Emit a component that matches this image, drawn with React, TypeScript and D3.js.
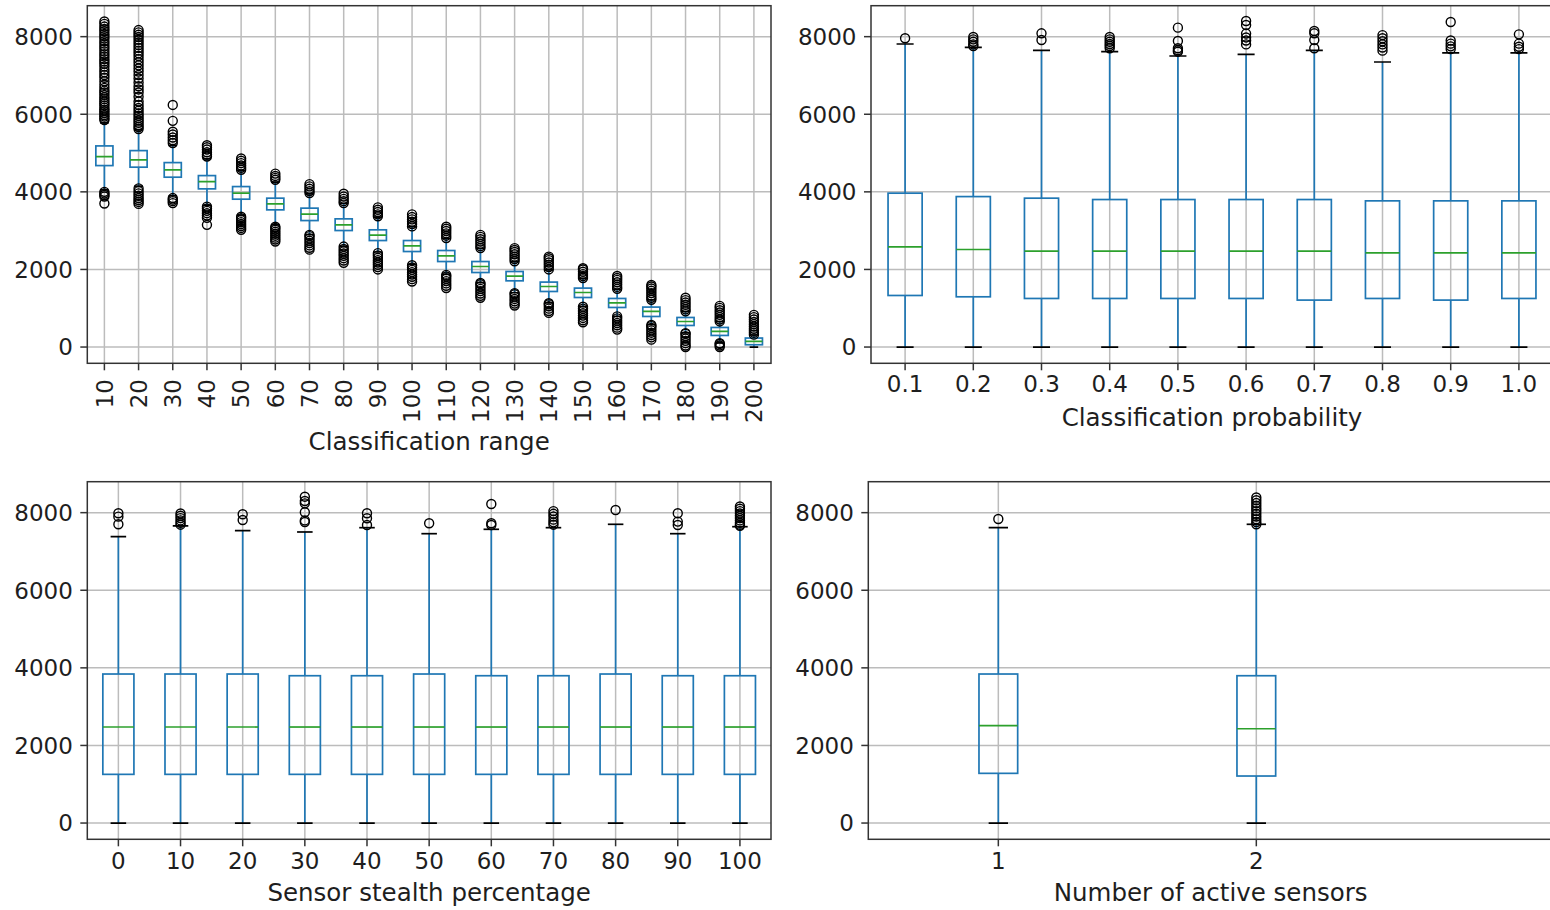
import React from 'react'
import * as d3 from 'd3'

// ---- Classification range (top left) ----
const rangeCats = ['10', '20', '30', '40', '50', '60', '70', '80', '90', '100', '110', '120', '130', '140', '150', '160', '170', '180', '190', '200']
const rangeLo = [4050, 4150, 3900, 3650, 3400, 3150, 2900, 2600, 2450, 2130, 1880, 1660, 1400, 1140, 1050, 790, 580, 365, 110, 0]
const rangeQ1 = [4677, 4636, 4378, 4077, 3811, 3536, 3260, 3003, 2745, 2462, 2204, 1921, 1707, 1432, 1277, 1020, 788, 556, 299, 59]
const rangeMed = [4909, 4824, 4566, 4265, 3966, 3690, 3425, 3150, 2884, 2609, 2351, 2076, 1828, 1561, 1406, 1141, 917, 659, 402, 144]
const rangeQ3 = [5184, 5063, 4754, 4419, 4136, 3837, 3580, 3304, 3021, 2745, 2488, 2204, 1947, 1674, 1519, 1252, 1030, 762, 505, 232]
const rangeHi = [5780, 5600, 5200, 4850, 4550, 4250, 3950, 3700, 3350, 3100, 2800, 2540, 2200, 1990, 1770, 1490, 1215, 915, 655, 310]
const rangeFliers = [
  [3700, 3880, 3920, 3960, 4000, 5850, 5890, 5940, 5980, 6030, 6080, 6120, 6170, 6230, 6280, 6330, 6390, 6440, 6500, 6560, 6610, 6680, 6760, 6850, 6940, 7010, 7080, 7150, 7230, 7300, 7360, 7420, 7490, 7550, 7620, 7690, 7750, 7820, 7880, 7950, 8010, 8070, 8140, 8200, 8260, 8330, 8390],
  [3690, 3740, 3790, 3840, 3900, 3960, 4020, 4090, 5620, 5670, 5720, 5780, 5840, 5900, 5960, 6020, 6090, 6160, 6240, 6330, 6450, 6560, 6640, 6720, 6820, 6920, 7010, 7100, 7180, 7260, 7340, 7420, 7500, 7570, 7640, 7710, 7780, 7850, 7920, 7990, 8050, 8110, 8170],
  [3710, 3760, 3800, 3840, 5260, 5330, 5400, 5480, 5550, 5830, 6240],
  [3150, 3330, 3390, 3450, 3510, 3570, 3620, 4910, 4960, 5020, 5090, 5150, 5200],
  [3020, 3070, 3120, 3170, 3220, 3270, 3320, 3360, 4570, 4620, 4680, 4740, 4800, 4860],
  [2720, 2770, 2820, 2870, 2920, 2970, 3020, 3070, 3100, 4310, 4360, 4410, 4470],
  [2510, 2560, 2620, 2680, 2740, 2800, 2860, 2890, 3970, 4020, 4080, 4140, 4200],
  [2170, 2230, 2290, 2350, 2410, 2470, 2530, 2590, 3710, 3760, 3820, 3880, 3950],
  [2000, 2060, 2120, 2180, 2240, 2300, 2360, 2420, 3370, 3420, 3480, 3540, 3600],
  [1690, 1750, 1810, 1870, 1930, 1990, 2050, 2110, 3110, 3170, 3230, 3290, 3350, 3420],
  [1520, 1580, 1640, 1700, 1760, 1820, 1860, 2810, 2870, 2930, 2990, 3050, 3100],
  [1270, 1320, 1380, 1440, 1500, 1560, 1620, 1650, 2550, 2600, 2660, 2720, 2780, 2840, 2890],
  [1070, 1120, 1180, 1240, 1300, 1360, 1390, 2210, 2270, 2330, 2390, 2450, 2500, 2550],
  [880, 930, 990, 1050, 1100, 1130, 2000, 2060, 2120, 2180, 2240, 2290, 2330],
  [640, 690, 750, 810, 870, 930, 990, 1040, 1780, 1830, 1880, 1940, 2000, 2030],
  [450, 500, 560, 620, 680, 740, 790, 1500, 1550, 1610, 1670, 1730, 1780, 1830],
  [190, 250, 310, 370, 430, 490, 540, 570, 1220, 1270, 1330, 1390, 1450, 1510, 1560, 1600],
  [0, 40, 100, 160, 220, 280, 340, 360, 920, 970, 1030, 1090, 1150, 1210, 1270],
  [0, 40, 80, 100, 660, 710, 770, 830, 890, 950, 1010, 1060],
  [320, 370, 420, 470, 530, 590, 650, 710, 770, 830],
]

// ---- Classification probability (top right) ----
const probCats = ['0.1', '0.2', '0.3', '0.4', '0.5', '0.6', '0.7', '0.8', '0.9', '1.0']
const probLo = [0, 0, 0, 0, 0, 0, 0, 0, 0, 0]
const probQ1 = [1329, 1295, 1252, 1252, 1252, 1252, 1210, 1252, 1210, 1252]
const probMed = [2583, 2514, 2471, 2471, 2471, 2471, 2471, 2429, 2429, 2429]
const probQ3 = [3966, 3878, 3837, 3802, 3802, 3802, 3802, 3768, 3768, 3768]
const probHi = [7811, 7726, 7649, 7613, 7502, 7545, 7649, 7347, 7580, 7580]
const probFliers = [
  [7958],
  [7760, 7800, 7870, 7930, 7990],
  [7914, 8086],
  [7700, 7760, 7810, 7870, 7930, 7990],
  [7613, 7650, 7700, 7888, 8232],
  [7800, 7900, 7980, 8080, 8300, 8403],
  [7700, 7914, 8086, 8146],
  [7640, 7720, 7800, 7880, 7960, 8040],
  [7680, 7750, 7820, 7900, 8377],
  [7680, 7740, 7820, 8060],
]

// ---- Sensor stealth percentage (bottom left) ----
const stealthCats = ['0', '10', '20', '30', '40', '50', '60', '70', '80', '90', '100']
const stealthLo = [0, 0, 0, 0, 0, 0, 0, 0, 0, 0, 0]
const stealthQ1 = [1255, 1255, 1255, 1255, 1255, 1255, 1255, 1255, 1255, 1255, 1255]
const stealthMed = [2475, 2475, 2475, 2475, 2475, 2475, 2475, 2475, 2475, 2475, 2475]
const stealthQ3 = [3841, 3841, 3841, 3797, 3797, 3841, 3797, 3797, 3841, 3797, 3797]
const stealthHi = [7381, 7657, 7536, 7502, 7613, 7458, 7571, 7613, 7700, 7458, 7638]
const stealthFliers = [
  [7700, 7897, 7984],
  [7690, 7740, 7800, 7860, 7920, 7980],
  [7811, 7958],
  [7760, 7800, 8010, 8240, 8300, 8412],
  [7683, 7855, 7984],
  [7726],
  [7683, 7726, 8224],
  [7690, 7750, 7820, 7900, 7970, 8040],
  [8069],
  [7683, 7769, 7984],
  [7660, 7690, 7740, 7800, 7860, 7920, 7980, 8040, 8100, 8160],
]

// ---- Number of active sensors (bottom right) ----
const sensorCats = ['1', '2']
const sensorLo = [0, 0]
const sensorQ1 = [1281, 1212]
const sensorMed = [2509, 2431]
const sensorQ3 = [3841, 3797]
const sensorHi = [7613, 7700]
const sensorFliers = [
  [7837],
  [7700, 7760, 7830, 7900, 7970, 8040, 8110, 8180, 8250, 8320, 8390],
]

const yTicks = [0, 2000, 4000, 6000, 8000]
const yDomain = [-419, 8798]

const FONT = '"DejaVu Sans", sans-serif'
const BLUE = '#1f77b4'
const GREEN = '#2ca02c'
const GRID = '#bcbcbc'
const SPINE = '#333'
const TXT = '#1e1e1e'

type PanelDef = {
  cats: string[]
  lo: number[]
  q1: number[]
  med: number[]
  q3: number[]
  hi: number[]
  fliers: number[][]
  left: number
  right: number
  top: number
  bottom: number
  xDomain: [number, number]
  boxW: number
  rotate: boolean
  xlabel: string
  tickBase: number
  labelBase: number
}

const panels: PanelDef[] = [
  {
    cats: rangeCats, lo: rangeLo, q1: rangeQ1, med: rangeMed, q3: rangeQ3, hi: rangeHi, fliers: rangeFliers,
    left: 87.3, right: 771, top: 5.7, bottom: 363.3, xDomain: [0.5, 20.5], boxW: 0.5, rotate: true,
    xlabel: 'Classification range', tickBase: 379, labelBase: 450,
  },
  {
    cats: probCats, lo: probLo, q1: probQ1, med: probMed, q3: probQ3, hi: probHi, fliers: probFliers,
    left: 871, right: 1553, top: 5.7, bottom: 363.3, xDomain: [0.5, 10.5], boxW: 0.5, rotate: false,
    xlabel: 'Classification probability', tickBase: 392, labelBase: 426,
  },
  {
    cats: stealthCats, lo: stealthLo, q1: stealthQ1, med: stealthMed, q3: stealthQ3, hi: stealthHi, fliers: stealthFliers,
    left: 87.3, right: 771, top: 481.7, bottom: 839.3, xDomain: [0.5, 11.5], boxW: 0.5, rotate: false,
    xlabel: 'Sensor stealth percentage', tickBase: 869, labelBase: 901,
  },
  {
    cats: sensorCats, lo: sensorLo, q1: sensorQ1, med: sensorMed, q3: sensorQ3, hi: sensorHi, fliers: sensorFliers,
    left: 868.3, right: 1553, top: 481.7, bottom: 839.3, xDomain: [0.496, 3.15], boxW: 0.15, rotate: false,
    xlabel: 'Number of active sensors', tickBase: 869, labelBase: 901,
  },
]

function BoxPanel({ p }: { p: PanelDef }) {
  const x = d3.scaleLinear().domain(p.xDomain).range([p.left, p.right])
  const y = d3.scaleLinear().domain(yDomain).range([p.bottom, p.top])
  const pos = p.cats.map((_, i) => i + 1)
  const half = (x(1 + p.boxW / 2) - x(1))
  const capHalf = half / 2
  const clipId = `clip-${p.left}-${p.top}`.replace(/\./g, '_')

  return (
    <g>
      <defs>
        <clipPath id={clipId}>
          <rect x={p.left} y={p.top} width={p.right - p.left} height={p.bottom - p.top} />
        </clipPath>
      </defs>
      {/* grid */}
      <g stroke={GRID} strokeWidth={1.5}>
        {yTicks.map(t => (
          <line key={'gy' + t} x1={p.left} x2={p.right} y1={y(t)} y2={y(t)} />
        ))}
        {pos.map(v => (
          <line key={'gx' + v} x1={x(v)} x2={x(v)} y1={p.top} y2={p.bottom} />
        ))}
      </g>

      <g clipPath={`url(#${clipId})`}>
        {pos.map((v, i) => {
          const cx = x(v)
          return (
            <g key={'b' + i}>
              <line x1={cx} x2={cx} y1={y(p.q3[i])} y2={y(p.hi[i])} stroke={BLUE} strokeWidth={1.7} />
              <line x1={cx} x2={cx} y1={y(p.q1[i])} y2={y(p.lo[i])} stroke={BLUE} strokeWidth={1.7} />
              <line x1={cx - capHalf} x2={cx + capHalf} y1={y(p.hi[i])} y2={y(p.hi[i])} stroke="#000" strokeWidth={1.7} />
              <line x1={cx - capHalf} x2={cx + capHalf} y1={y(p.lo[i])} y2={y(p.lo[i])} stroke="#000" strokeWidth={1.7} />
              <rect x={cx - half} y={y(p.q3[i])} width={half * 2} height={y(p.q1[i]) - y(p.q3[i])}
                fill="none" stroke={BLUE} strokeWidth={1.7} />
              <line x1={cx - half} x2={cx + half} y1={y(p.med[i])} y2={y(p.med[i])} stroke={GREEN} strokeWidth={1.7} />
              {p.fliers[i].map((f, j) => (
                <circle key={j} cx={cx} cy={y(f)} r={4.5} fill="none" stroke="#000" strokeWidth={1.4} />
              ))}
            </g>
          )
        })}
      </g>

      {/* spines */}
      <rect x={p.left} y={p.top} width={p.right - p.left} height={p.bottom - p.top}
        fill="none" stroke={SPINE} strokeWidth={1.5} />

      {/* y axis */}
      {yTicks.map(t => (
        <g key={'yt' + t}>
          <line x1={p.left - 7} x2={p.left} y1={y(t)} y2={y(t)} stroke={SPINE} strokeWidth={1.5} />
          <text x={p.left - 14.5} y={y(t)} dy="0.36em" textAnchor="end" fontSize={23} fill={TXT} fontFamily={FONT}>
            {d3.format('d')(t)}
          </text>
        </g>
      ))}

      {/* x axis */}
      {pos.map((v, i) => (
        <g key={'xt' + v}>
          <line x1={x(v)} x2={x(v)} y1={p.bottom} y2={p.bottom + 7} stroke={SPINE} strokeWidth={1.5} />
          {p.rotate ? (
            <text transform={`translate(${x(v)},${p.tickBase}) rotate(-90)`} dy="0.36em" textAnchor="end"
              fontSize={23} fill={TXT} fontFamily={FONT}>{p.cats[i]}</text>
          ) : (
            <text x={x(v)} y={p.tickBase} textAnchor="middle" fontSize={23} fill={TXT} fontFamily={FONT}>{p.cats[i]}</text>
          )}
        </g>
      ))}

      <text x={(p.left + p.right) / 2} y={p.labelBase} textAnchor="middle" fontSize={24.5} fill={TXT} fontFamily={FONT}>
        {p.xlabel}
      </text>
    </g>
  )
}

export default function App() {
  return (
    <svg width={1550} height={910} style={{ position: 'absolute', left: 0, top: 0, background: '#fff' }}>
      <rect width={1550} height={910} fill="#fff" />
      {panels.map((p, i) => <BoxPanel key={i} p={p} />)}
    </svg>
  )
}
